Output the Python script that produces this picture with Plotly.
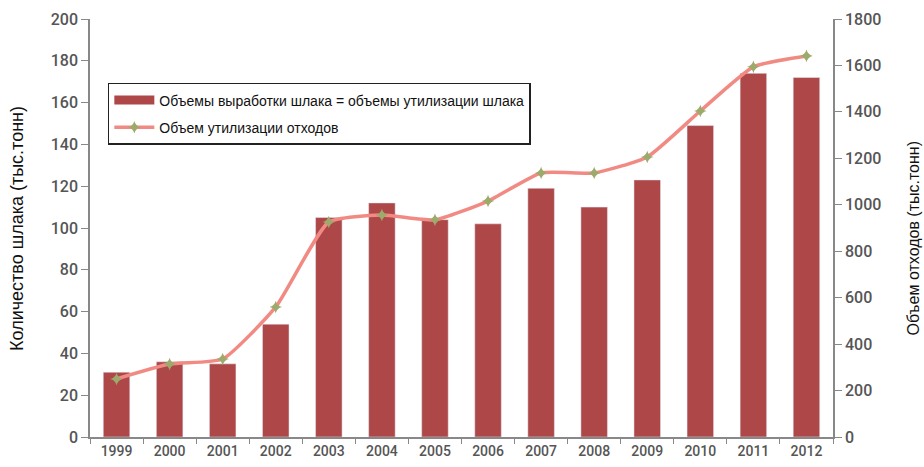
import plotly.graph_objects as go

years = ["1999", "2000", "2001", "2002", "2003", "2004", "2005", "2006",
         "2007", "2008", "2009", "2010", "2011", "2012"]
slag = [31, 36, 35, 54, 105, 112, 104, 102, 119, 110, 123, 149, 174, 172]
waste = [250, 314, 336, 560, 926, 956, 935, 1016, 1137, 1137, 1206, 1404, 1594, 1641]

bar_name = "Объемы выработки шлака = объемы утилизации шлака"
line_name = "Объем утилизации отходов"
left_title = "Количество шлака (тыс.тонн)"
right_title = "Объем отходов (тыс.тонн)"

bar_color = "#AE4848"

fig = go.Figure()
fig.add_trace(go.Bar(
    x=years, y=slag, name=bar_name, marker_color=bar_color,
    showlegend=False, yaxis="y"))
# legend-only entry to mimic the wide rectangular legend swatch
fig.add_trace(go.Scatter(
    x=[None], y=[None], name=bar_name, mode="lines",
    line=dict(color=bar_color, width=9), legendgroup="a", yaxis="y"))
fig.add_trace(go.Scatter(
    x=years, y=waste, name=line_name, mode="lines+markers",
    line=dict(color="#F28A84", width=3.5, shape="spline", smoothing=0.5),
    marker=dict(symbol="star-diamond", size=9, color="#9DAA6C"),
    legendgroup="b", yaxis="y2"))

tickfont = dict(family="Roboto", size=16, color="#555555", weight=500)
fig.update_layout(
    width=924, height=467,
    margin=dict(l=90, r=91, t=19, b=30),
    plot_bgcolor="white", paper_bgcolor="white",
    bargap=0.5,
    showlegend=True,
    legend=dict(x=0.024, y=0.847, xanchor="left", yanchor="top",
                bgcolor="white", bordercolor="#222222", borderwidth=1.5,
                font=dict(family="Liberation Sans", size=14, color="#111111"),
                traceorder="grouped", tracegroupgap=6, itemwidth=40),
    xaxis=dict(type="category", range=[-0.5, 13.5], showline=True,
               linecolor="#888888", linewidth=1.5, ticks="outside",
               tickson="boundaries", ticklen=5, tickcolor="#888888",
               tickfont=dict(family="Roboto", size=14, color="#555555",
                             weight=500),
               showgrid=False, automargin=False),
    yaxis=dict(range=[0, 200], dtick=20, showline=True, linecolor="#888888",
               linewidth=1.5, ticks="outside", ticklen=7, tickcolor="#888888",
               tickfont=tickfont, showgrid=False, zeroline=False,
               automargin=False),
    yaxis2=dict(range=[0, 1800], dtick=200, overlaying="y", side="right",
                showline=True, linecolor="#888888", linewidth=1.5,
                ticks="outside", ticklen=7, tickcolor="#888888",
                tickfont=tickfont, showgrid=False, zeroline=False,
                automargin=False),
    annotations=[
        dict(text=left_title, xref="paper", yref="paper", x=-0.0983, y=0.5,
             xanchor="center", yanchor="middle", textangle=-90,
             showarrow=False,
             font=dict(family="Liberation Sans", size=18, color="#111111")),
        dict(text=right_title, xref="paper", yref="paper", x=1.1077, y=0.475,
             xanchor="center", yanchor="middle", textangle=-90,
             showarrow=False,
             font=dict(family="Liberation Sans", size=16, color="#111111")),
    ],
)

fig.write_html("out.html", config={"displayModeBar": False},
               post_script="document.body.style.margin='0';")
